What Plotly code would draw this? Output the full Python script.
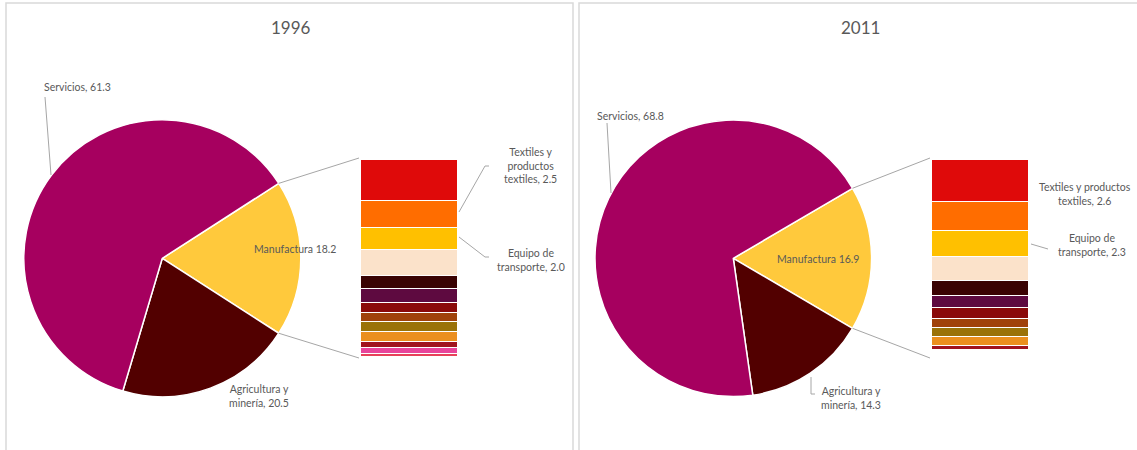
import math
import plotly.graph_objects as go

W, H = 1137, 450

# ---------------- data ----------------
years = ["1996", "2011"]
pie_labels = ["Manufactura", "Agricultura y minería", "Servicios"]
pie_1996 = [18.2, 20.5, 61.3]
pie_2011 = [16.9, 14.3, 68.8]
pie_colors = ["#FFC93C", "#520000", "#A6005F"]

# manufacturing breakdown, listed top -> bottom of the stacked bar
branches_1996 = ["Otra rama A", "Textiles y productos textiles", "Equipo de transporte",
                 "Otra rama B", "Otra rama C", "Otra rama D", "Otra rama E", "Otra rama F",
                 "Otra rama G", "Otra rama H", "Otra rama I", "Otra rama J", "Otra rama K"]
manuf_1996 = [3.8, 2.5, 2.0, 2.4, 1.2, 1.3, 0.9, 0.9, 0.9, 0.9, 0.6, 0.5, 0.3]
colors_1996 = ["#DF0A0A", "#FF6D00", "#FFC000", "#FBE2CA", "#3A0303", "#5E0A40",
               "#8A0A0A", "#A0420A", "#9A7208", "#EB8F1E", "#A0141E", "#E8449A", "#E8405A"]

branches_2011 = ["Otra rama A", "Textiles y productos textiles", "Equipo de transporte",
                 "Otra rama B", "Otra rama C", "Otra rama D", "Otra rama E", "Otra rama F",
                 "Otra rama G", "Otra rama H", "Otra rama I"]
manuf_2011 = [3.7, 2.6, 2.3, 2.2, 1.3, 1.1, 0.9, 0.8, 0.8, 0.8, 0.4]
colors_2011 = ["#DF0A0A", "#FF6D00", "#FFC000", "#FBE2CA", "#3A0303", "#5E0A40",
               "#8A0A0A", "#A0420A", "#9A7208", "#EB8F1E", "#A0141E"]

# ---------------- helpers ----------------
def X(px):
    return px / W

def Y(py):
    return 1 - py / H

FONT = "Lato"
TXT = "#595959"
LINE = "#A6A6A6"

fig = go.Figure()

# pies: (center px, radius px)
pie_geo = [((162.3, 258.3), 138.5), ((733.3, 258.3), 138.3)]
bar_geo = [((361, 458), (160, 357)), ((932, 1029), (160, 350))]
pies = [pie_1996, pie_2011]
bars = [(branches_1996, manuf_1996, colors_1996), (branches_2011, manuf_2011, colors_2011)]

shapes = []
for i, vals in enumerate(pies):
    (cx, cy), r = pie_geo[i]
    half = vals[0] / sum(vals) * 360 / 2
    fig.add_trace(go.Pie(
        labels=pie_labels, values=vals, sort=False, direction="clockwise",
        rotation=90 - half, textinfo="none", hoverinfo="label+value",
        marker=dict(colors=pie_colors, line=dict(color="white", width=1.5)),
        domain=dict(x=[X(cx - r), X(cx + r)], y=[Y(cy + r), Y(cy - r)]),
        showlegend=False,
    ))
    # connector lines from manufacturing slice edges to bar
    (bx0, bx1), (by0, by1) = bar_geo[i]
    a = math.radians(half)
    ex, ey_top, ey_bot = cx + r * math.cos(a), cy - r * math.sin(a), cy + r * math.sin(a)
    shapes.append(dict(type="line", xref="paper", yref="paper",
                       x0=X(ex), y0=Y(ey_top), x1=X(bx0 - 2), y1=Y(by0 - 2),
                       line=dict(color=LINE, width=1)))
    shapes.append(dict(type="line", xref="paper", yref="paper",
                       x0=X(ex), y0=Y(ey_bot), x1=X(bx0 - 2), y1=Y(358),
                       line=dict(color=LINE, width=1)))

# stacked bars
for i, (names, vals, cols) in enumerate(bars):
    xa = "x" if i == 0 else "x2"
    ya = "y" if i == 0 else "y2"
    for n, v, c in reversed(list(zip(names, vals, cols))):
        fig.add_trace(go.Bar(
            x=[0], y=[v], name=n, marker=dict(color=c, line=dict(color="white", width=1.5)),
            width=1, xaxis=xa, yaxis=ya, showlegend=False, hoverinfo="name+y",
        ))

(bx0, bx1), (by0, by1) = bar_geo[0]
fig.update_layout(
    xaxis=dict(domain=[X(bx0), X(bx1)], range=[-0.5, 0.5], visible=False, fixedrange=True),
    yaxis=dict(domain=[Y(by1), Y(by0)], range=[0, sum(manuf_1996)], visible=False, fixedrange=True),
)
(bx0, bx1), (by0, by1) = bar_geo[1]
fig.update_layout(
    xaxis2=dict(domain=[X(bx0), X(bx1)], range=[-0.5, 0.5], visible=False, anchor="y2", fixedrange=True),
    yaxis2=dict(domain=[Y(by1), Y(by0)], range=[0, sum(manuf_2011)], visible=False, anchor="x2", fixedrange=True),
)

# label leader lines / panel frames
def path(pts, color=LINE, width=1):
    d = "M " + " L ".join(f"{X(px)} {Y(py)}" for px, py in pts)
    return dict(type="path", xref="paper", yref="paper", path=d, line=dict(color=color, width=width))

# panel frames (open at the bottom, as in the cropped reference)
shapes.append(path([(6, 455), (6, 3), (573, 3), (573, 455)], color="#D9D9D9", width=1.5))
shapes.append(path([(579, 455), (579, 3), (1145, 3)], color="#D9D9D9", width=1.5))

shapes += [
    path([(45, 97), (51, 175)]),
    path([(607, 123), (611, 193)]),
    path([(459, 212), (485, 166), (489, 166)]),
    path([(459, 237), (485, 257), (489, 257)]),
    path([(811, 377), (811, 394), (815, 394)]),
    path([(1031, 244), (1048, 249)]),
]

ann = []
def label(text, px, py, size=10.5, xanchor="center"):
    ann.append(dict(text=text, x=X(px), y=Y(py), xref="paper", yref="paper",
                    xanchor=xanchor, yanchor="middle", showarrow=False, align="center",
                    font=dict(family=FONT, size=size, color=TXT)))

label(years[0], 291, 28, size=17)
label(years[1], 860, 27, size=17)
label(f"Servicios, {pie_1996[2]}", 42, 87, xanchor="left")
label(f"Servicios, {pie_2011[2]}", 595, 116, xanchor="left")
label(f"Manufactura {pie_1996[0]}", 295, 249)
label(f"Manufactura {pie_2011[0]}", 818, 259)
label(f"Agricultura y<br>minería, {pie_1996[1]}", 259, 396)
label(f"Agricultura y<br>minería, {pie_2011[1]}", 851, 398)
label(f"Textiles y<br>productos<br>textiles, {manuf_1996[1]}", 530, 166)
label(f"Equipo de<br>transporte, {manuf_1996[2]}", 531, 260)
label(f"Textiles y productos<br>textiles, {manuf_2011[1]}", 1085, 194)
label(f"Equipo de<br>transporte, {manuf_2011[2]}", 1092, 245)

fig.update_layout(
    width=W, height=H, margin=dict(l=0, r=0, t=0, b=0),
    paper_bgcolor="white", plot_bgcolor="rgba(0,0,0,0)",
    barmode="stack", bargap=0, shapes=shapes, annotations=ann,
    font=dict(family=FONT, color=TXT),
)

fig.write_html(
    "out.html",
    config={"displayModeBar": False},
    post_script="document.body.style.margin='0';document.body.style.padding='0';document.body.style.overflow='hidden';",
)
